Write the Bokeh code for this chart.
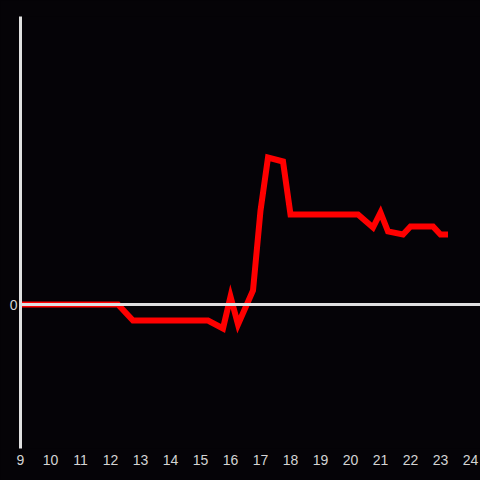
from bokeh.plotting import figure
from bokeh.models import Span, FixedTicker, Range1d, GlobalInlineStyleSheet
from bokeh.embed import file_html
from bokeh.resources import INLINE

hours = [9, 10, 11, 12, 12.25, 12.75, 13, 14, 15, 15.25, 15.75, 16.0, 16.25, 16.75,
         17.0, 17.25, 17.75, 18.0, 19, 20, 20.25, 20.75, 21.0, 21.25, 21.75, 22.0,
         22.75, 23.0, 23.25]
values = [0, 0, 0, 0, 0, -1.6, -1.6, -1.6, -1.6, -1.6, -2.4, 0.8, -2.0, 1.4,
          9.4, 14.7, 14.3, 9.0, 9.0, 9.0, 9.0, 7.7, 9.2, 7.3, 7.0, 7.8,
          7.8, 7.0, 7.0]
x_ticks = list(range(9, 25))
y_ticks = [0]

bg = "#050307"
page_css = GlobalInlineStyleSheet(css="html, body { margin: 0; padding: 0; background: #050307; overflow: hidden; }")

p = figure(width=480, height=480, output_backend="svg", toolbar_location=None,
           x_range=Range1d(9, 24.333), y_range=Range1d(-14.4, 28.8),
           background_fill_color=bg, border_fill_color=bg,
           min_border_left=20, min_border_top=16, min_border_right=0, min_border_bottom=32,
           stylesheets=[page_css])
p.outline_line_color = None
p.grid.visible = False

p.add_layout(Span(location=0, dimension="width", line_color="#e0e0e0", line_width=3))
p.line(hours, values, line_color="#ff0000", line_width=6, line_join="miter")

p.xaxis.ticker = FixedTicker(ticks=x_ticks)
p.xaxis.axis_line_color = None
p.xaxis.major_tick_line_color = None
p.xaxis.minor_tick_line_color = None
p.xaxis.major_tick_out = 0
p.xaxis.major_label_standoff = 6
p.xaxis.major_label_text_color = "#d4d4d4"
p.xaxis.major_label_text_font = "Liberation Sans"
p.xaxis.major_label_text_font_size = "14px"

p.yaxis.ticker = FixedTicker(ticks=y_ticks)
p.yaxis.axis_line_color = "#e0e0e0"
p.yaxis.axis_line_width = 3
p.yaxis.major_tick_line_color = None
p.yaxis.minor_tick_line_color = None
p.yaxis.major_tick_out = 0
p.yaxis.major_label_standoff = 3
p.yaxis.major_label_text_color = "#d4d4d4"
p.yaxis.major_label_text_font = "Liberation Sans"
p.yaxis.major_label_text_font_size = "14px"

open("out.html", "w").write(file_html(p, INLINE))
